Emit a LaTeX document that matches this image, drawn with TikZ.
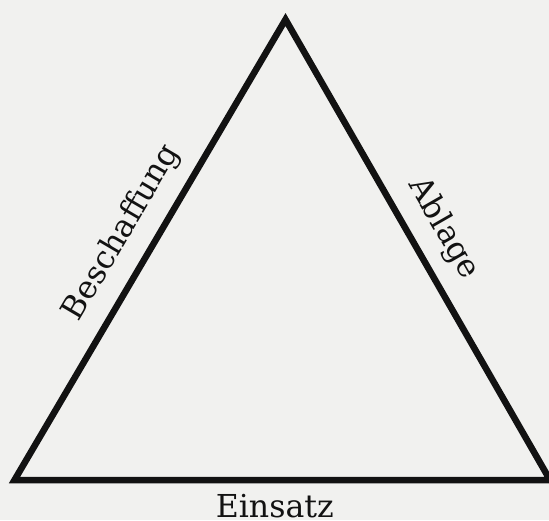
\documentclass[tikz,border=0pt]{standalone}
\usepackage{fontspec}
\setmainfont{DejaVu Serif}
\usepackage{xcolor}
\usepackage{tikz}
\definecolor{paper}{RGB}{241,241,239}
\definecolor{ink}{RGB}{18,18,18}

\begin{document}
\begin{tikzpicture}[
  x=0.5pt,y=-0.5pt,
  edge/.style={draw=ink,line width=3.25pt,line join=miter},
  lbl/.style={text=ink,font=\fontsize{15.8}{19}\selectfont,inner sep=3pt}
]

\path[use as bounding box,fill=paper] (0,0) rectangle (549,520);

\coordinate (left) at (14.5,480);
\coordinate (apex) at (285.5,19.5);
\coordinate (right) at (550,480);

\draw[edge] (left)
  -- node[lbl,sloped,above=4pt,pos=0.5] (beschaffung) {Beschaffung} (apex)
  -- node[lbl,sloped,above=4pt,pos=0.49] (ablage) {Ablage} (right)
  -- node[lbl,below=2.5pt,pos=0.514] (einsatz) {Einsatz} (left) -- cycle;
\end{tikzpicture}
\end{document}
